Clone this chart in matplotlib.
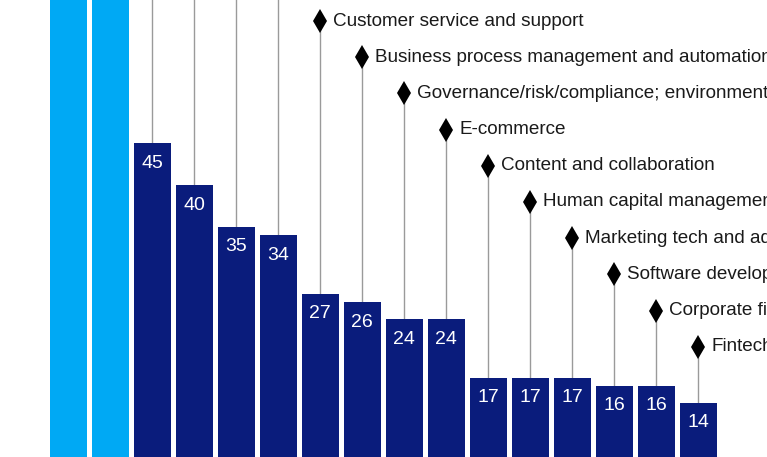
import matplotlib
matplotlib.use("Agg")
import matplotlib.pyplot as plt

plt.rcParams['font.family'] = ['Liberation Sans', 'DejaVu Sans']

categories = [
    "Enterprise resource planning",
    "Customer relationship management",
    "Security",
    "Data and analytics",
    "IT service management",
    "Supply chain management",
    "Customer service and support",
    "Business process management and automation",
    "Governance/risk/compliance; environmental, social, and governance",
    "E-commerce",
    "Content and collaboration",
    "Human capital management",
    "Marketing tech and advertising",
    "Software development",
    "Corporate finance",
    "Fintech",
]
values = [90, 80, 45, 40, 35, 34, 27, 26, 24, 24, 17, 17, 17, 16, 16, 14]
highlight = [True, True] + [False] * 14

LIGHT = "#00a9f4"
DARK = "#0a1c7c"
GRAY = "#9a9a9a"

W, H = 767, 457
fig = plt.figure(figsize=(W / 100, H / 100), dpi=100)
ax = fig.add_axes([0, 0, 1, 1])

# pixel mapping: x_pix = 68.2 + 42*i ; y_pix(from top) = 519.9 - 8.37*v
x0, dx = 68.2, 42.0
y0, dy = 519.9, 8.37
ymin, ymax = (y0 - H) / dy, y0 / dy
ax.set_xlim(-x0 / dx, (W - x0) / dx)
ax.set_ylim(ymin, ymax)
ax.axis('off')

xs = list(range(len(values)))
colors = [LIGHT if h else DARK for h in highlight]
ax.bar(xs, values, width=0.89, color=colors, zorder=3, linewidth=0)

# label levels (stepped upward going left)
top_level = (y0 - 21) / dy
step = 36.2 / dy
for i, (cat, v) in enumerate(zip(categories, values)):
    ly = top_level - step * (i - 6)
    ax.plot([i, i], [v, ly], color=GRAY, lw=1.0, zorder=1, solid_capstyle='butt')
    if ly < ymax:
        ax.plot([i], [ly], marker='d', color='black', markersize=12, zorder=4,
                markeredgewidth=0)
        ax.annotate(cat, xy=(i, ly), xytext=(13, 0), textcoords='offset pixels',
                    ha='left', va='center', fontsize=13.6, color='#1a1a1a',
                    annotation_clip=False, zorder=5)
    if not highlight[i]:
        ax.annotate(str(v), xy=(i, v), xytext=(0, -20), textcoords='offset pixels',
                    ha='center', va='center', fontsize=14, color='white', zorder=5)

fig.savefig("out.png", dpi=100)
